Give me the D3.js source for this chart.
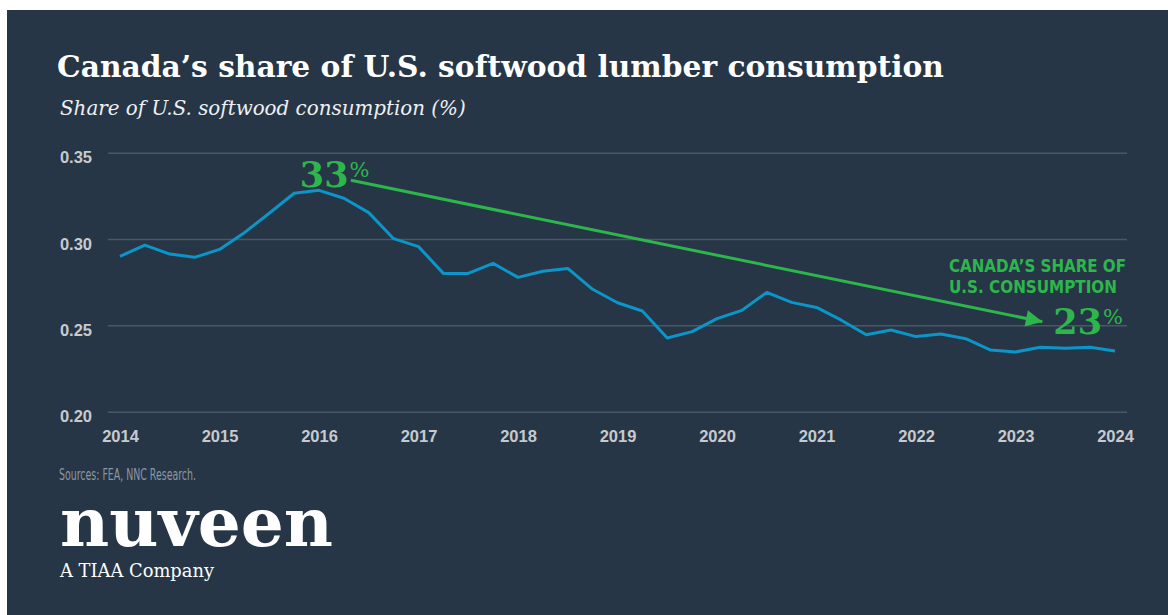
<!DOCTYPE html>
<html>
<head>
<meta charset="utf-8">
<script src="https://cdn.jsdelivr.net/npm/d3@7"></script>
<style>
  body { margin: 0; background: #fff; }
  svg { display: block; }
</style>
</head>
<body>
<svg id="chart" width="1168" height="615"></svg>
<script>
// quarterly share, 2014 Q1 .. 2024 Q1
const startYear = 2014;
const share = [
  0.290, 0.2965, 0.2913, 0.2894, 0.2940, 0.3037, 0.3149, 0.3265,
  0.3282, 0.3236, 0.3153, 0.3002, 0.2956, 0.2801, 0.2801, 0.2859,
  0.2778, 0.2813, 0.2830, 0.2709, 0.2631, 0.2583, 0.2427, 0.2464,
  0.2539, 0.2587, 0.2691, 0.2633, 0.2604, 0.2530, 0.2446, 0.2473,
  0.2435, 0.2450, 0.2423, 0.2357, 0.2346, 0.2373, 0.2367, 0.2373,
  0.2352
];
const yearTicks = [2014, 2015, 2016, 2017, 2018, 2019, 2020, 2021, 2022, 2023, 2024];
const shareTicks = [0.20, 0.25, 0.30, 0.35];
// trend arrow, in data units [year, share]
const arrowFrom = [2016.32, 0.3340];
const arrowTo = [2023.27, 0.2521];
const peakLabel = "33";
const endLabel = "23";
const noteLines = ["CANADA\u2019S SHARE OF", "U.S. CONSUMPTION"];

const bg = "#263646", blue = "#0b95c9", green = "#2db64b", grid = "#4a5866", axisText = "#c6cacf";

const svg = d3.select("#chart");

svg.append("rect")
  .attr("x", 7).attr("y", 10)
  .attr("width", 1161).attr("height", 605)
  .attr("fill", bg);

// make a text element as wide as the reference shows
function fit(sel, w) {
  const len = sel.node().getComputedTextLength();
  const fs = parseFloat(sel.attr("font-size"));
  sel.attr("font-size", (fs * w / len).toFixed(2));
  return sel;
}

fit(svg.append("text")
  .attr("x", 57).attr("y", 77)
  .attr("font-family", "DejaVu Serif").attr("font-weight", "bold")
  .attr("font-size", 27).attr("fill", "#fff")
  .text("Canada\u2019s share of U.S. softwood lumber consumption"), 887);

fit(svg.append("text")
  .attr("x", 60).attr("y", 115)
  .attr("font-family", "DejaVu Serif").attr("font-style", "italic")
  .attr("font-size", 18).attr("fill", "#eef0f2")
  .text("Share of U.S. softwood consumption (%)"), 406);

const x = d3.scaleLinear().domain([2014, 2024]).range([120, 1115]);
const y = d3.scaleLinear().domain([0.20, 0.35]).range([411.7, 152.7]);

const gridLeft = 108, gridRight = 1127;

const yAxis = svg.append("g")
  .attr("transform", `translate(${gridLeft},0)`)
  .call(d3.axisLeft(y).tickValues(shareTicks).tickFormat(d3.format(".2f"))
    .tickSize(-(gridRight - gridLeft)).tickPadding(16));
yAxis.select(".domain").remove();
yAxis.selectAll("line").attr("stroke", grid).attr("stroke-width", 1.5);
yAxis.selectAll("text")
  .attr("dy", 10)
  .attr("fill", axisText)
  .attr("font-family", "Liberation Sans, Arial, sans-serif")
  .attr("font-weight", "bold")
  .attr("font-size", 16.5);

const xAxis = svg.append("g")
  .attr("transform", `translate(0,${y(0.20)})`)
  .call(d3.axisBottom(x).tickValues(yearTicks).tickFormat(d3.format("d"))
    .tickSize(0).tickPadding(0));
xAxis.select(".domain").remove();
xAxis.selectAll("text")
  .attr("y", 30).attr("dy", 0)
  .attr("fill", axisText)
  .attr("font-family", "Liberation Sans, Arial, sans-serif")
  .attr("font-weight", "bold")
  .attr("font-size", 16.5);

const line = d3.line()
  .x((d, i) => x(startYear + i / 4))
  .y(d => y(d));

svg.append("path")
  .datum(share)
  .attr("d", line)
  .attr("fill", "none")
  .attr("stroke", blue)
  .attr("stroke-width", 3)
  .attr("stroke-linejoin", "round");

// trend arrow
svg.append("defs").append("marker")
  .attr("id", "head")
  .attr("viewBox", "0 0 10 10")
  .attr("refX", 10).attr("refY", 5)
  .attr("markerWidth", 6).attr("markerHeight", 5.5)
  .attr("markerUnits", "strokeWidth")
  .attr("orient", "auto")
  .append("path")
  .attr("d", "M0,0 L10,5 L0,10 Z")
  .attr("fill", green);

svg.append("line")
  .attr("x1", x(arrowFrom[0])).attr("y1", y(arrowFrom[1]))
  .attr("x2", x(arrowTo[0])).attr("y2", y(arrowTo[1]))
  .attr("stroke", green)
  .attr("stroke-width", 3)
  .attr("marker-end", "url(#head)");

// big percent labels
function pct(xPos, yPos, num) {
  const t = svg.append("text")
    .attr("x", xPos).attr("y", yPos)
    .attr("font-family", "DejaVu Serif").attr("font-weight", "bold")
    .attr("fill", green);
  t.append("tspan").attr("font-size", 35).text(num);
  t.append("tspan").attr("font-size", 21).attr("font-weight", "normal")
    .attr("dy", -10).attr("dx", 1).text("%");
}
pct(x(arrowFrom[0]) - 51, y(arrowFrom[1]) + 6.5, peakLabel);
pct(x(arrowTo[0]) + 11, y(arrowTo[1]) + 12, endLabel);

const noteWidths = [177, 168];
const note = svg.append("g")
  .attr("font-family", "Liberation Sans Narrow, DejaVu Sans Condensed, Liberation Sans, sans-serif")
  .attr("font-size", 18)
  .attr("font-weight", "bold")
  .attr("fill", green);
note.selectAll("text")
  .data(noteLines)
  .join("text")
  .attr("x", 949).attr("y", (d, i) => 271.5 + i * 21.7)
  .attr("textLength", (d, i) => noteWidths[i])
  .attr("lengthAdjust", "spacingAndGlyphs")
  .text(d => d);

svg.append("text")
  .attr("x", 59).attr("y", 480)
  .attr("font-family", "Liberation Sans Narrow, DejaVu Sans Condensed, Liberation Sans, sans-serif")
  .attr("font-size", 15)
  .attr("textLength", 137)
  .attr("lengthAdjust", "spacingAndGlyphs")
  .attr("fill", "#8c97a2")
  .text("Sources: FEA, NNC Research.");

fit(svg.append("text")
  .attr("x", 60).attr("y", 546)
  .attr("font-family", "DejaVu Serif").attr("font-weight", "bold")
  .attr("font-size", 68).attr("fill", "#fff")
  .text("nuveen"), 273);

fit(svg.append("text")
  .attr("x", 60).attr("y", 577)
  .attr("font-family", "DejaVu Serif")
  .attr("font-size", 17).attr("fill", "#fff")
  .text("A TIAA Company"), 154);
</script>
</body>
</html>
